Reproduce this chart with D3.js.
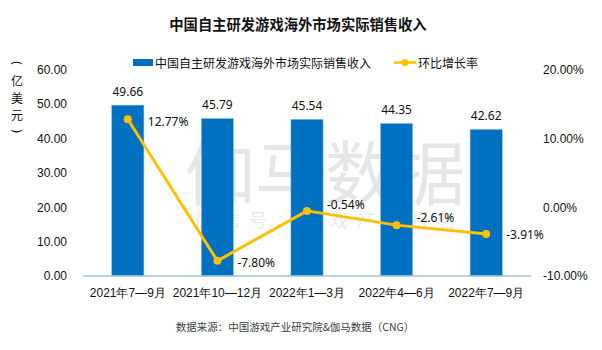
<!DOCTYPE html>
<html>
<head>
<meta charset="utf-8">
<script src="https://cdn.jsdelivr.net/npm/d3@7"></script>
<style>
  body { margin: 0; background: #fff; }
  svg { font-family: "Noto Sans", "Noto Sans CJK SC", sans-serif; }
</style>
</head>
<body>
<script>
//size of the svg
var w = 602;
var h = 350;

//the data
var quarters = ["2021年7—9月", "2021年10—12月", "2022年1—3月", "2022年4—6月", "2022年7—9月"];
var revenue = [49.66, 45.79, 45.54, 44.35, 42.62];
var growth = [12.77, -7.80, -0.54, -2.61, -3.91];
var leftTicks = [0, 10, 20, 30, 40, 50, 60];
var rightTicks = [-10, 0, 10, 20];
var unitChars = ["(", "亿", "美", "元", ")"];
var growthLabelDy = [2, 2, -6, -8, 0]; //little nudges of the % labels, as in the original

var barColor = "#0070C0";
var lineColor = "#FFC000";

var svg = d3.select("body")
            .append("svg")
            .attr("width", w)
            .attr("height", h);

//scales
var xScale = d3.scaleBand()
               .domain(quarters)
               .range([83, 531])
               .paddingInner(0.64)
               .paddingOuter(0.32);

var yScale = d3.scaleLinear()
               .domain([0, 60])
               .range([276, 69.5]);

var y2Scale = d3.scaleLinear()
                .domain([-10, 20])
                .range([276, 69.5]);

//watermark, behind everything
svg.append("text")
   .attr("x", 325)
   .attr("y", 200)
   .attr("text-anchor", "middle")
   .attr("font-family", "Noto Sans CJK SC")
   .attr("font-size", 70)
   .attr("fill", "#e6e6e6")
   .text("伽马数据");

svg.append("text")
   .attr("x", 330)
   .attr("y", 227)
   .attr("text-anchor", "middle")
   .attr("font-family", "Noto Sans CJK SC")
   .attr("font-size", 18)
   .attr("letter-spacing", 9)
   .attr("fill", "#ebebeb")
   .text("微信号：游戏产业报告");

//title
svg.append("text")
   .attr("x", 298)
   .attr("y", 30)
   .attr("text-anchor", "middle")
   .attr("font-family", "Noto Sans CJK SC")
   .attr("font-size", 14.3)
   .attr("font-weight", "bold")
   .attr("fill", "#111")
   .text("中国自主研发游戏海外市场实际销售收入");

//legend
var legend = svg.append("g").attr("font-size", 12).attr("fill", "#111");
legend.append("rect")
      .attr("x", 133).attr("y", 59)
      .attr("width", 20).attr("height", 7)
      .attr("fill", barColor);
legend.append("text")
      .attr("x", 155).attr("y", 62.5)
      .attr("dominant-baseline", "central")
      .attr("font-family", "Noto Sans CJK SC")
      .text("中国自主研发游戏海外市场实际销售收入");
legend.append("line")
      .attr("x1", 394).attr("x2", 416)
      .attr("y1", 62.5).attr("y2", 62.5)
      .attr("stroke", lineColor).attr("stroke-width", 2.5);
legend.append("circle")
      .attr("cx", 405).attr("cy", 62.5).attr("r", 3.5)
      .attr("fill", lineColor);
legend.append("text")
      .attr("x", 418).attr("y", 62.5)
      .attr("dominant-baseline", "central")
      .attr("font-family", "Noto Sans CJK SC")
      .text("环比增长率");

//unit label written vertically, brackets turned on their side
svg.append("g")
   .selectAll("text")
   .data(unitChars)
   .enter()
   .append("text")
   .attr("transform", function(d, i) {
       var t = "translate(17," + (63 + i * 17) + ")";
       return (d === "(" || d === ")") ? t + " rotate(90)" : t;
   })
   .attr("text-anchor", "middle")
   .attr("dominant-baseline", "central")
   .attr("font-family", function(d) { return (d === "(" || d === ")") ? "Noto Sans" : "Noto Sans CJK SC"; })
   .attr("font-size", 12)
   .attr("fill", "#111")
   .text(function(d) { return d; });

//axes
svg.append("g")
   .attr("transform", "translate(69,0)")
   .call(d3.axisLeft(yScale)
           .tickValues(leftTicks)
           .tickSize(0)
           .tickPadding(2)
           .tickFormat(d3.format(".2f")));

svg.append("g")
   .attr("transform", "translate(541,0)")
   .call(d3.axisRight(y2Scale)
           .tickValues(rightTicks)
           .tickSize(0)
           .tickPadding(2)
           .tickFormat(function(d) { return d.toFixed(2) + "%"; }));

svg.append("g")
   .attr("transform", "translate(0,276)")
   .call(d3.axisBottom(xScale)
           .tickSize(0)
           .tickPadding(12));

svg.selectAll(".domain").remove();
svg.selectAll(".tick text")
   .attr("font-size", 12)
   .attr("fill", "#111");

//bars
svg.append("g")
   .selectAll("rect")
   .data(revenue)
   .enter()
   .append("rect")
   .attr("x", function(d, i) { return xScale(quarters[i]); })
   .attr("y", function(d) { return yScale(d); })
   .attr("width", xScale.bandwidth())
   .attr("height", function(d) { return yScale(0) - yScale(d); })
   .attr("fill", barColor)
   .attr("stroke", "#9dc3e6")
   .attr("stroke-width", 0.6);

//bar value labels
svg.append("g")
   .selectAll("text")
   .data(revenue)
   .enter()
   .append("text")
   .attr("x", function(d, i) { return xScale(quarters[i]) + xScale.bandwidth() / 2; })
   .attr("y", function(d) { return yScale(d) - 9; })
   .attr("text-anchor", "middle")
   .attr("font-size", 12)
   .attr("fill", "#111")
   .text(function(d) { return d.toFixed(2); });

//baseline
svg.append("line")
   .attr("x1", 83).attr("x2", 531)
   .attr("y1", yScale(0)).attr("y2", yScale(0))
   .attr("stroke", "#9dc3e6")
   .attr("stroke-width", 1.5);

//growth line
var line = d3.line()
             .x(function(d, i) { return xScale(quarters[i]) + xScale.bandwidth() / 2; })
             .y(function(d) { return y2Scale(d); });

svg.append("path")
   .datum(growth)
   .attr("d", line)
   .attr("fill", "none")
   .attr("stroke", lineColor)
   .attr("stroke-width", 3)
   .attr("stroke-linejoin", "round");

svg.append("g")
   .selectAll("circle")
   .data(growth)
   .enter()
   .append("circle")
   .attr("cx", function(d, i) { return xScale(quarters[i]) + xScale.bandwidth() / 2; })
   .attr("cy", function(d) { return y2Scale(d); })
   .attr("r", 4)
   .attr("fill", lineColor);

svg.append("g")
   .selectAll("text")
   .data(growth)
   .enter()
   .append("text")
   .attr("x", function(d, i) { return xScale(quarters[i]) + xScale.bandwidth() / 2 + 20; })
   .attr("y", function(d, i) { return y2Scale(d) + growthLabelDy[i]; })
   .attr("dominant-baseline", "central")
   .attr("font-size", 12)
   .attr("fill", "#111")
   .text(function(d) { return d.toFixed(2) + "%"; });

//source note
svg.append("text")
   .attr("x", 295)
   .attr("y", 326)
   .attr("text-anchor", "middle")
   .attr("dominant-baseline", "central")
   .attr("font-family", "Noto Sans CJK SC")
   .attr("font-size", 10.5)
   .attr("fill", "#404040")
   .text("数据来源：中国游戏产业研究院&伽马数据（CNG）");
</script>
</body>
</html>
